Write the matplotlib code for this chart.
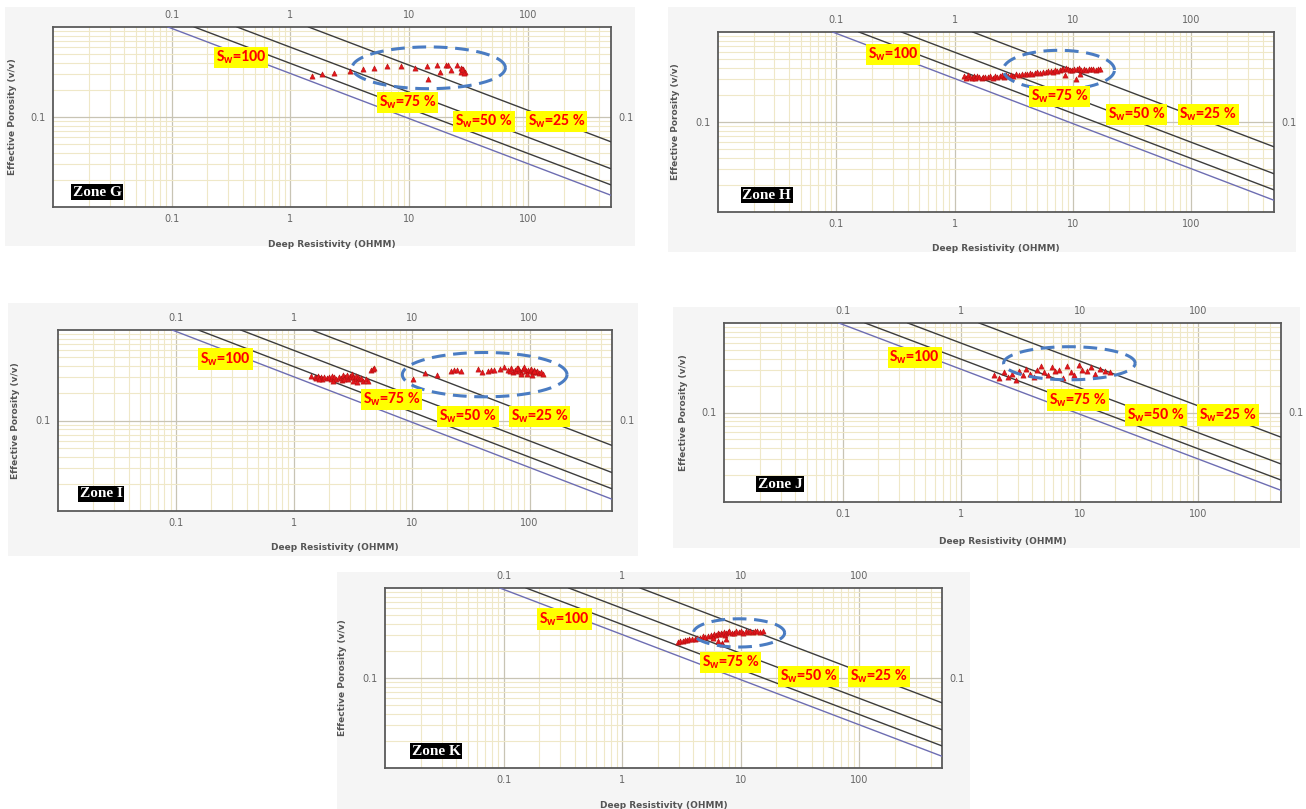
import numpy as np
import matplotlib
matplotlib.use("Agg")
import matplotlib.pyplot as plt
from matplotlib.patches import Rectangle
from matplotlib.ticker import LogLocator, NullFormatter, FixedLocator, FixedFormatter
from matplotlib import font_manager

# ---------------- data ----------------
x_ticks = [0.1, 1, 10, 100]
x_tick_labels = ["0.1", "1", "10", "100"]
y_ticks = [0.1]
y_tick_labels = ["0.1"]

sw_names = ["100", "75 %", "50 %", "25 %"]
# Archie (Sw) lines: resistivity where each line leaves phi = 1, porosity at right edge (R = 500)
line_res_start = [0.093, 0.155, 0.355, 1.42]
line_phi_end = [0.0135, 0.0176, 0.0266, 0.053]

zones = ["Zone G", "Zone H", "Zone I", "Zone J", "Zone K"]

g_res = [1.53, 1.83, 2.33, 3.2, 4.06, 5.03, 6.53, 8.54, 11.1, 14.1, 14.4, 17.1, 18.2, 20.4, 21.4,
         22.6, 25.0, 27.1, 27.5, 28.6, 29.7, 29.0, 28.0]
g_phi = [0.285, 0.300, 0.310, 0.324, 0.338, 0.352, 0.368, 0.368, 0.346, 0.368, 0.262, 0.374, 0.318,
         0.377, 0.377, 0.329, 0.377, 0.352, 0.318, 0.338, 0.316, 0.305, 0.345]

h_res = [1.2, 1.25, 1.3, 1.35, 1.4, 1.45, 1.5, 1.55, 1.6, 1.7, 1.75, 1.8, 1.9, 2.0, 2.1, 2.2, 2.3, 2.4,
         2.5, 2.6, 2.7, 2.8, 3.0, 3.1, 3.3, 3.5, 3.7, 3.9, 4.1, 4.3, 4.5, 4.8, 5.0, 5.3, 5.6, 5.9, 6.2,
         6.5, 6.8, 7.1, 7.4, 7.7, 8.0, 8.3, 8.7, 9.0, 9.4, 9.8, 10.3, 10.8, 11.3, 11.8, 12.4, 13.0,
         13.6, 14.2, 14.9, 15.6, 16.3, 17.0, 10.6, 8.6, 11.5]
h_phi = [0.325, 0.31, 0.33, 0.318, 0.305, 0.322, 0.312, 0.328, 0.315, 0.31, 0.32, 0.313, 0.318,
         0.325, 0.31, 0.322, 0.316, 0.327, 0.33, 0.32, 0.335, 0.328, 0.332, 0.325, 0.338, 0.333,
         0.34, 0.345, 0.338, 0.35, 0.345, 0.352, 0.358, 0.35, 0.36, 0.355, 0.365, 0.37, 0.36, 0.375,
         0.368, 0.38, 0.392, 0.385, 0.40, 0.39, 0.38, 0.375, 0.39, 0.385, 0.395, 0.382, 0.39, 0.378,
         0.392, 0.386, 0.39, 0.383, 0.388, 0.385, 0.30, 0.33, 0.345]

i_res = [1.4, 1.5, 1.55, 1.6, 1.7, 1.75, 1.8, 1.9, 2.0, 2.05, 2.1, 2.2, 2.3, 2.4, 2.5, 2.55, 2.6,
         2.7, 2.8, 2.9, 3.0, 3.05, 3.1, 3.2, 3.3, 3.4, 3.5, 3.6, 3.7, 3.9, 4.1, 4.3, 4.5, 4.7, 4.8,
         1.65, 2.15, 2.65, 3.15, 3.45,
         10.2, 12.9, 16.4, 21.7, 23, 24.4, 26.4, 36.3, 39.3, 44.3, 47, 49.9, 56.2, 60.9, 65.9, 68, 70,
         72, 75, 77, 80, 82, 85, 88, 90, 93, 96, 100, 103, 106, 110, 113, 116, 120, 124, 129,
         85, 95, 105, 78, 110]
i_phi = [0.31, 0.305, 0.295, 0.31, 0.30, 0.29, 0.305, 0.295, 0.30, 0.285, 0.31, 0.30, 0.29, 0.305,
         0.295, 0.28, 0.315, 0.30, 0.32, 0.29, 0.31, 0.30, 0.325, 0.305, 0.29, 0.31, 0.30, 0.285,
         0.295, 0.27, 0.29, 0.275, 0.36, 0.37, 0.38,
         0.29, 0.275, 0.285, 0.27, 0.265,
         0.287, 0.338, 0.318, 0.355, 0.36, 0.361, 0.352, 0.367, 0.346, 0.352, 0.36, 0.361, 0.373,
         0.393, 0.36, 0.35, 0.377, 0.34, 0.36, 0.35, 0.38, 0.36, 0.345, 0.37, 0.39, 0.355, 0.365,
         0.35, 0.37, 0.34, 0.36, 0.345, 0.35, 0.335, 0.34, 0.33,
         0.33, 0.325, 0.32, 0.38, 0.355]

j_res = [1.9, 2.1, 2.3, 2.5, 2.7, 2.9, 3.1, 3.3, 3.5, 3.8, 4.1, 4.4, 4.7, 5.0, 5.4, 5.8, 6.2, 6.7,
         7.2, 7.8, 8.4, 9.0, 9.8, 10.5, 11.5, 12.5, 13.5, 15, 16.5, 18]
j_phi = [0.26, 0.24, 0.28, 0.25, 0.27, 0.23, 0.29, 0.26, 0.31, 0.27, 0.25, 0.30, 0.33, 0.28, 0.26,
         0.32, 0.29, 0.30, 0.24, 0.33, 0.28, 0.26, 0.34, 0.30, 0.29, 0.32, 0.27, 0.31, 0.29, 0.28]

k_res = [2.96, 3.1, 3.25, 3.4, 3.55, 3.7, 3.9, 4.1, 4.3, 4.5, 4.8, 5.0, 5.3, 5.6, 5.8, 6.0, 6.2,
         6.4, 6.6, 6.8, 7.0, 7.2, 7.4, 7.6, 7.8, 8.0, 8.4, 8.8, 9.2, 9.6, 10.0, 10.5, 11.0, 11.5,
         12.0, 12.6, 13.2, 13.8, 14.5, 15.4, 6.5, 7.0, 7.5, 6.9, 5.9]
k_phi = [0.254, 0.26, 0.258, 0.265, 0.262, 0.27, 0.272, 0.268, 0.28, 0.275, 0.29, 0.285, 0.296,
         0.30, 0.29, 0.31, 0.30, 0.315, 0.305, 0.32, 0.31, 0.325, 0.30, 0.315, 0.322, 0.33, 0.32,
         0.318, 0.33, 0.322, 0.336, 0.32, 0.33, 0.325, 0.335, 0.322, 0.33, 0.336, 0.325, 0.33,
         0.255, 0.245, 0.27, 0.24, 0.28]

# hydrocarbon ellipse: centre (res, phi), full width / height in decades
ell_center = [(14.6, 0.352), (7.6, 0.379), (41.6, 0.321), (8.2, 0.355), (9.7, 0.317)]
ell_size = [(1.29, 0.464), (0.94, 0.436), (1.397, 0.49), (1.11, 0.37), (0.769, 0.314)]

points = [(g_res, g_phi), (h_res, h_phi), (i_res, i_phi), (j_res, j_phi), (k_res, k_phi)]

# ---------------- layout (pixels) ----------------
W, H = 1306, 809
frames = [(53, 27, 611, 207), (718, 32, 1274, 212), (58, 330, 612, 511),
          (724, 323, 1281, 502), (385, 588, 942, 768)]
backs = [(5, 7, 635, 246), (668, 7, 1296, 252), (8, 303, 638, 556),
         (673, 307, 1300, 548), (337, 572, 970, 809)]
ylabel_x = [17, 680, 20, 688, 347]
xlabel_y = [240, 244, 543, 537, 801]
sw_pos = [
    [(0.288, 0.829), (0.580, 0.58), (0.717, 0.477), (0.847, 0.477)],
    [(0.265, 0.874), (0.559, 0.64), (0.697, 0.543), (0.826, 0.543)],
    [(0.253, 0.84), (0.546, 0.617), (0.684, 0.521), (0.813, 0.521)],
    [(0.293, 0.807), (0.580, 0.57), (0.720, 0.486), (0.849, 0.486)],
    [(0.273, 0.828), (0.565, 0.588), (0.705, 0.508), (0.831, 0.508)],
]
zone_pos = [(0.031, 0.083), (0.040, 0.094), (0.035, 0.094), (0.057, 0.10), (0.044, 0.094)]

names = {f.name for f in font_manager.fontManager.ttflist}
sw_font = "Liberation Sans"
for cand in ["Carlito", "Archivo Narrow", "Liberation Sans Narrow"]:
    if cand in names:
        sw_font = cand
        break
zone_font = "Liberation Serif"
plt.rcParams["mathtext.fontset"] = "custom"
plt.rcParams["mathtext.rm"] = sw_font + ":bold"
plt.rcParams["mathtext.it"] = sw_font + ":bold"
plt.rcParams["mathtext.bf"] = sw_font + ":bold"

fig = plt.figure(figsize=(W / 100, H / 100), dpi=100)
fig.patch.set_facecolor("white")

XMIN, XMAX = 0.01, 500
YMIN, YMAX = 0.01, 1.0

for k in range(5):
    bl, bt, br, bb = backs[k]
    fig.add_artist(Rectangle((bl / W, 1 - bb / H), (br - bl) / W, (bb - bt) / H,
                             transform=fig.transFigure, facecolor="#f5f5f5",
                             edgecolor="none", zorder=-10))
    l, t, r, b = frames[k]
    ax = fig.add_axes([l / W, 1 - b / H, (r - l) / W, (b - t) / H])
    ax.set_zorder(2)
    ax.set_xscale("log")
    ax.set_yscale("log")
    ax.set_xlim(XMIN, XMAX)
    ax.set_ylim(YMIN, YMAX)
    ax.set_facecolor("white")

    ax.xaxis.set_major_locator(FixedLocator(x_ticks))
    ax.xaxis.set_major_formatter(FixedFormatter(x_tick_labels))
    ax.xaxis.set_minor_locator(LogLocator(base=10, subs=np.arange(2, 10), numticks=20))
    ax.xaxis.set_minor_formatter(NullFormatter())
    ax.yaxis.set_major_locator(FixedLocator(y_ticks))
    ax.yaxis.set_major_formatter(FixedFormatter(y_tick_labels))
    ax.yaxis.set_minor_locator(LogLocator(base=10, subs=np.arange(2, 10), numticks=20))
    ax.yaxis.set_minor_formatter(NullFormatter())

    ax.grid(which="minor", color="#efe8c8", lw=0.8)
    ax.grid(which="major", color="#c8c4b4", lw=0.9)
    ax.set_axisbelow(True)
    ax.tick_params(which="both", length=0, labelsize=7, labelcolor="#666666",
                   top=True, labeltop=True, right=True, labelright=True)
    ax.tick_params(axis="x", which="major", pad=5)
    ax.tick_params(axis="y", which="major", pad=5)
    for sp in ax.spines.values():
        sp.set_color("#5a5a5a")
        sp.set_linewidth(1.3)

    # Sw lines
    for i in range(4):
        col = "#6d6db2" if i == 0 else "#3c3c3c"
        ax.plot([line_res_start[i], XMAX], [YMAX, line_phi_end[i]], color=col, lw=1.0, zorder=3)

    # data points
    xs, ys = points[k]
    ax.scatter(xs, ys, marker="^", s=14, color="#e5161c", edgecolors="#b01010",
               linewidths=0.4, zorder=5)

    # hydrocarbon ellipse
    (cx, cy), (ew, eh) = ell_center[k], ell_size[k]
    t_ = np.linspace(0, 2 * np.pi, 200)
    ex = 10 ** (np.log10(cx) + ew / 2 * np.cos(t_))
    ey = 10 ** (np.log10(cy) + eh / 2 * np.sin(t_))
    ax.plot(ex, ey, color="#4a7cc2", lw=2.2, ls=(0, (4.5, 2.5)), zorder=6)

    # Sw labels
    for i in range(4):
        px, py = sw_pos[k][i]
        ax.text(px + 0.004, py, r"S$_\mathrm{w}$=" + sw_names[i], transform=ax.transAxes,
                ha="left", va="center", fontsize=11.5, color="#ff0000",
                family=sw_font, fontweight="bold", zorder=8,
                bbox=dict(boxstyle="square,pad=0.12", facecolor="#ffff00", edgecolor="none"))

    # zone label
    zx, zy = zone_pos[k]
    ax.text(zx + 0.004, zy, zones[k], transform=ax.transAxes, ha="left", va="center",
            fontsize=11, color="white", family=zone_font, fontweight="bold", zorder=8,
            bbox=dict(boxstyle="square,pad=0.12", facecolor="black", edgecolor="none"))

    # axis labels
    ax.set_ylabel("Effective Porosity (v/v)", fontsize=6.5, fontweight="bold", color="#555555")
    ax.yaxis.set_label_coords((ylabel_x[k] - l) / (r - l), 0.5)
    ax.set_xlabel("Deep Resistivity (OHMM)", fontsize=6.5, fontweight="bold", color="#555555")
    ax.xaxis.set_label_coords(0.5, -(xlabel_y[k] - b) / (b - t))

fig.savefig("out.png", dpi=100)
